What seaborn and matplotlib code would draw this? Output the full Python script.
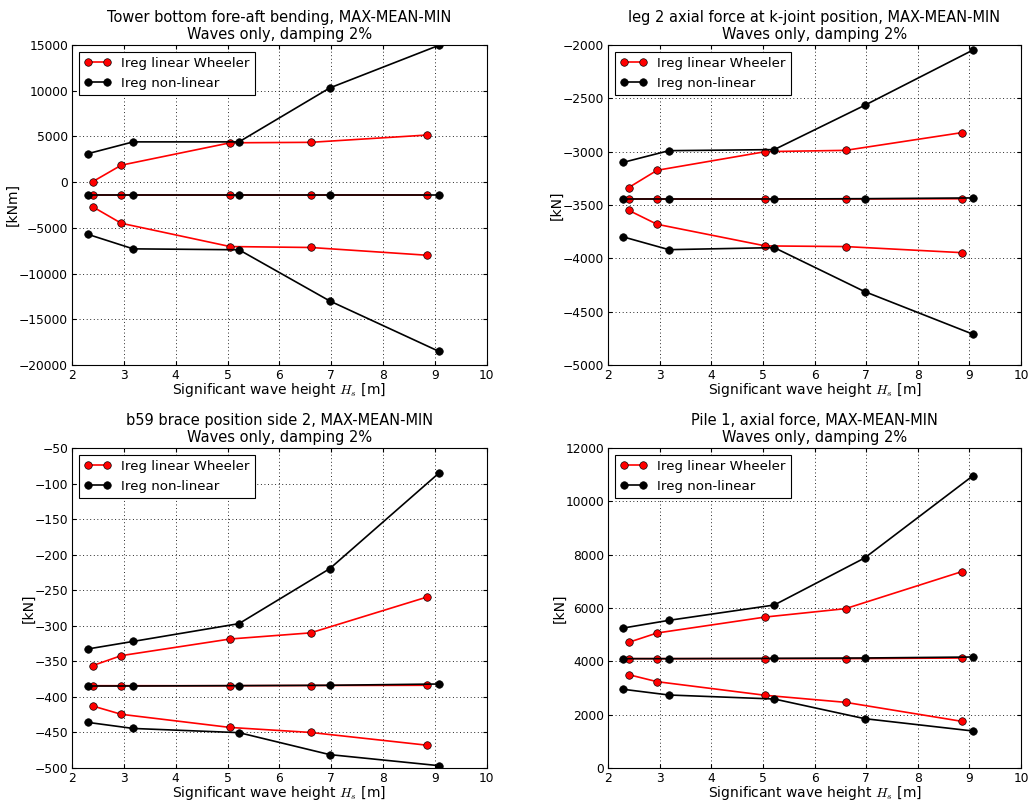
import matplotlib
matplotlib.use("Agg")
import matplotlib.pyplot as plt
import seaborn as sns
import numpy as np

# wave heights (x) for the two model sets
hs_lin = [2.4, 2.95, 5.05, 6.6, 8.85]
hs_nl = [2.3, 3.18, 5.22, 6.97, 9.07]

# tower bottom fore-aft bending [kNm]
tower_lin_max = [50, 1850, 4300, 4350, 5150]
tower_lin_mean = [-1380, -1380, -1380, -1380, -1380]
tower_lin_min = [-2700, -4500, -7050, -7150, -8000]
tower_nl_max = [3100, 4400, 4400, 10300, 14950]
tower_nl_mean = [-1380, -1380, -1380, -1380, -1380]
tower_nl_min = [-5700, -7300, -7400, -13000, -18500]

# leg 2 axial force [kN]
leg_lin_max = [-3337, -3175, -3000, -2988, -2822]
leg_lin_mean = [-3444, -3444, -3444, -3444, -3442]
leg_lin_min = [-3550, -3681, -3884, -3890, -3947]
leg_nl_max = [-3100, -2991, -2981, -2566, -2047]
leg_nl_mean = [-3444, -3444, -3444, -3441, -3434]
leg_nl_min = [-3800, -3919, -3900, -4312, -4712]

# b59 brace [kN]
brace_lin_max = [-356, -342, -318.6, -310, -259.5]
brace_lin_mean = [-384.3, -384.3, -384.3, -384, -383.7]
brace_lin_min = [-412.8, -424.5, -443, -450, -468]
brace_nl_max = [-332.7, -322, -297, -219.7, -85.6]
brace_nl_mean = [-384.7, -384.7, -384.2, -383.7, -381.9]
brace_nl_min = [-435.8, -444.4, -450.3, -481.2, -496.7]

# pile 1 axial force [kN]
pile_lin_max = [4712, 5062, 5662, 5975, 7362]
pile_lin_mean = [4100, 4100, 4100, 4100, 4125]
pile_lin_min = [3500, 3237, 2725, 2462, 1750]
pile_nl_max = [5250, 5537, 6112, 7875, 10962]
pile_nl_mean = [4100, 4100, 4112, 4125, 4162]
pile_nl_min = [2950, 2737, 2587, 1850, 1387]

titles = ["Tower bottom fore-aft bending, MAX-MEAN-MIN\nWaves only, damping 2%",
          "leg 2 axial force at k-joint position, MAX-MEAN-MIN\nWaves only, damping 2%",
          "b59 brace position side 2, MAX-MEAN-MIN\nWaves only, damping 2%",
          "Pile 1, axial force, MAX-MEAN-MIN\nWaves only, damping 2%"]
ylabels = ["[kNm]", "[kN]", "[kN]", "[kN]"]
yticks = [np.arange(-20000, 15001, 5000), np.arange(-5000, -1999, 500),
          np.arange(-500, -49, 50), np.arange(0, 12001, 2000)]

panels = [
    ([tower_lin_max, tower_lin_mean, tower_lin_min], [tower_nl_max, tower_nl_mean, tower_nl_min]),
    ([leg_lin_max, leg_lin_mean, leg_lin_min], [leg_nl_max, leg_nl_mean, leg_nl_min]),
    ([brace_lin_max, brace_lin_mean, brace_lin_min], [brace_nl_max, brace_nl_mean, brace_nl_min]),
    ([pile_lin_max, pile_lin_mean, pile_lin_min], [pile_nl_max, pile_nl_mean, pile_nl_min]),
]

sns.set_style("white", {
    "axes.edgecolor": "black",
    "axes.labelcolor": "black",
    "text.color": "black",
    "xtick.color": "black",
    "ytick.color": "black",
    "xtick.direction": "in",
    "ytick.direction": "in",
    "xtick.top": True,
    "ytick.right": True,
    "xtick.bottom": True,
    "ytick.left": True,
})
plt.rcParams["font.family"] = ["DejaVu Sans"]
plt.rcParams["mathtext.fontset"] = "cm"

fig = plt.figure(figsize=(1034 / 80, 803 / 80), dpi=80)
positions = [[0.0696, 0.5455, 0.4013, 0.3985],
             [0.588, 0.5455, 0.3995, 0.3985],
             [0.0696, 0.0436, 0.4013, 0.3985],
             [0.588, 0.0436, 0.3995, 0.3985]]

for i, (lin, nl) in enumerate(panels):
    ax = fig.add_axes(positions[i])
    for j, y in enumerate(lin):
        sns.lineplot(x=hs_lin, y=y, ax=ax, color="red", marker="o", markersize=6.8,
                     markeredgecolor="black", markeredgewidth=0.6, linewidth=1.5,
                     label="Ireg linear Wheeler" if j == 0 else None, legend=False)
    for j, y in enumerate(nl):
        sns.lineplot(x=hs_nl, y=y, ax=ax, color="black", marker="o", markersize=6.8,
                     markeredgecolor="black", markeredgewidth=0.6, linewidth=1.5,
                     label="Ireg non-linear" if j == 0 else None, legend=False)
    ax.set_xlim(2, 10)
    ax.set_xticks(range(2, 11))
    ax.set_yticks(yticks[i])
    ax.set_ylim(yticks[i][0], yticks[i][-1])
    ax.tick_params(labelsize=11, width=1, length=4, color="black")
    ax.set_title(titles[i], fontsize=13.2, pad=5)
    ax.set_xlabel("Significant wave height $H_s$ [m]", fontsize=12.5, labelpad=-1)
    ax.set_ylabel(ylabels[i], fontsize=12.5, labelpad=-1)
    ax.grid(True, color="black", linestyle=(0, (1, 3)), linewidth=0.8)
    for s in ax.spines.values():
        s.set_color("black")
        s.set_linewidth(1)
    leg = ax.legend(loc="upper left", numpoints=2, fontsize=12, fancybox=False,
                    framealpha=1, edgecolor="black", handlelength=2, borderaxespad=0.5)
    leg.get_frame().set_linewidth(1)

fig.savefig("out.png", dpi=80)
